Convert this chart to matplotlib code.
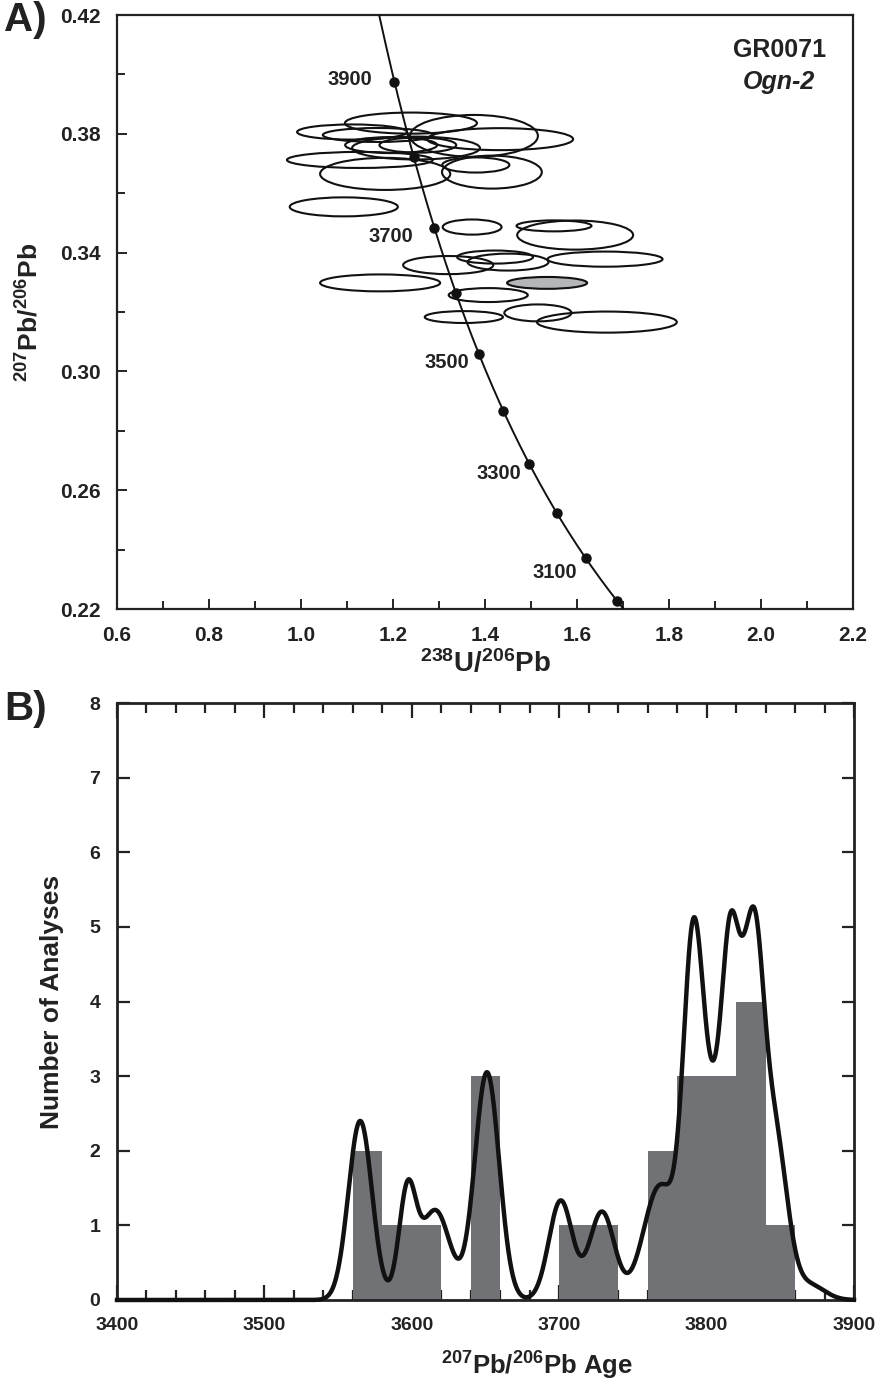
import numpy as np
import matplotlib
matplotlib.use("Agg")
import matplotlib.pyplot as plt
from matplotlib.patches import Ellipse
from matplotlib.ticker import MultipleLocator, FixedLocator

plt.rcParams['font.family'] = ['Liberation Sans', 'DejaVu Sans']
plt.rcParams['font.weight'] = 'bold'
plt.rcParams['mathtext.fontset'] = 'custom'
plt.rcParams['mathtext.rm'] = 'Liberation Sans:bold'
plt.rcParams['mathtext.bf'] = 'Liberation Sans:bold'
plt.rcParams['mathtext.it'] = 'Liberation Sans:bold:italic'
plt.rcParams['mathtext.default'] = 'bf'

# --- panel A: Tera-Wasserburg ellipses (centre x, centre y, full width, full height)
ell_x = [1.111, 1.239, 1.167, 1.376, 1.433, 1.196, 1.254, 1.250, 1.128, 1.183, 1.415, 1.380, 1.093,
         1.372, 1.550, 1.596, 1.422, 1.320, 1.450, 1.661, 1.172, 1.535, 1.407, 1.354, 1.515, 1.665]
ell_y = [0.3806, 0.3836, 0.3796, 0.3793, 0.3782, 0.3762, 0.3762, 0.3752, 0.3712, 0.3665, 0.3671, 0.3695, 0.3554,
         0.3486, 0.3490, 0.3459, 0.3385, 0.3358, 0.3368, 0.3378, 0.3298, 0.3298, 0.3257, 0.3183, 0.3197, 0.3166]
ell_w = [0.239, 0.287, 0.239, 0.278, 0.317, 0.200, 0.167, 0.278, 0.317, 0.283, 0.217, 0.146, 0.235,
         0.128, 0.163, 0.252, 0.165, 0.196, 0.176, 0.250, 0.261, 0.174, 0.172, 0.170, 0.146, 0.304]
ell_h = [0.0051, 0.0071, 0.0047, 0.0141, 0.0074, 0.0054, 0.0051, 0.0077, 0.0054, 0.0108, 0.0111, 0.0051, 0.0064,
         0.0051, 0.0037, 0.0098, 0.0044, 0.0061, 0.0057, 0.0051, 0.0057, 0.0040, 0.0047, 0.0040, 0.0057, 0.0071]
ell_grey = [False] * 21 + [True] + [False] * 4

# concordia age marks (Ma)
conc_ages = [3000, 3100, 3200, 3300, 3400, 3500, 3600, 3700, 3800, 3900]
conc_labels = [3100, 3300, 3500, 3700, 3900]
label_offsets = {3900: (-16, 1.5), 3700: (-15, -6.5), 3500: (-7, -6), 3300: (-6, -7), 3100: (-6, -10)}
y_ticks_a = [0.22, 0.26, 0.30, 0.34, 0.38, 0.42]

LAMBDA238 = 1.55125e-10
LAMBDA235 = 9.8485e-10
U_RATIO = 137.88


def tera_wasserburg(age_ma):
    t = np.asarray(age_ma, dtype=float) * 1e6
    e238 = np.exp(LAMBDA238 * t) - 1
    e235 = np.exp(LAMBDA235 * t) - 1
    return 1 / e238, e235 / e238 / U_RATIO


# --- panel B: histogram (20 Ma bins) and probability density peaks
bin_start = [3560, 3580, 3600, 3620, 3640, 3660, 3680, 3700, 3720, 3740, 3760, 3780, 3800, 3820, 3840]
bin_count = [2, 1, 1, 0, 3, 0, 0, 1, 1, 0, 2, 3, 3, 4, 1]

peak_age = [3565, 3597, 3616, 3651, 3701, 3729, 3768, 3790.5, 3803, 3817, 3825, 3832, 3846, 3870]
peak_height = [2.4, 1.4, 1.2, 3.05, 1.33, 1.18, 1.5, 3.5, 2.4, 3.65, 0.35, 4.3, 2.2, 0.2]
peak_sigma = [8, 5.8, 10, 8.3, 8, 8.5, 11, 6.5, 12, 6.2, 4, 6.5, 8.5, 10]

fig = plt.figure(figsize=(8.75, 13.9), dpi=100)
W, H = 875, 1390
ax1 = fig.add_axes([117 / W, 1 - 609 / H, 736 / W, 594 / H])
ax2 = fig.add_axes([117 / W, 1 - 1300 / H, 737 / W, 597 / H])

# ---------------- panel A
for x, y, w, h, g in zip(ell_x, ell_y, ell_w, ell_h, ell_grey):
    ax1.add_patch(Ellipse((x, y), w, h, facecolor='#b4b6b9' if g else 'none',
                          edgecolor='#111111', lw=1.5, zorder=3))

curve_x, curve_y = tera_wasserburg(np.linspace(2950, 4100, 400))
ax1.plot(curve_x, curve_y, color='#111111', lw=1.4, zorder=4)
mx, my = tera_wasserburg(conc_ages)
ax1.plot(mx, my, 'o', color='#111111', ms=6.5, zorder=5, clip_on=False)
for age in conc_labels:
    px, py = tera_wasserburg(age)
    ax1.annotate(str(age), (px, py), xytext=label_offsets[age], textcoords='offset points',
                 ha='right', va='center', fontsize=14.5, fontweight='bold', color='#222222')

ax1.text(0.9, 0.941, 'GR0071', transform=ax1.transAxes, ha='center', va='center',
         fontsize=18, fontweight='bold', color='#222222')
ax1.text(0.9, 0.887, 'Ogn-2', transform=ax1.transAxes, ha='center', va='center',
         fontsize=18, fontweight='bold', style='italic', color='#222222')

ax1.set_xlim(0.6, 2.2)
ax1.set_ylim(0.22, 0.42)
ax1.xaxis.set_major_locator(MultipleLocator(0.2))
ax1.xaxis.set_minor_locator(MultipleLocator(0.1))
ax1.yaxis.set_major_locator(FixedLocator(y_ticks_a))
ax1.yaxis.set_minor_locator(MultipleLocator(0.02))
ax1.xaxis.set_major_formatter(plt.FuncFormatter(lambda v, p: f'{v:.1f}'))
ax1.yaxis.set_major_formatter(plt.FuncFormatter(lambda v, p: f'{v:.2f}'))
ax1.tick_params(which='both', direction='in', labelsize=15, pad=12, width=1.4, colors='#222222')
ax1.tick_params(which='major', length=7)
ax1.tick_params(which='minor', length=6)
for s in ax1.spines.values():
    s.set_linewidth(1.6)
    s.set_color('#222222')
ax1.set_xlabel(r'$^{238}$U/$^{206}$Pb', fontsize=20, fontweight='bold', color='#222222')
ax1.set_ylabel(r'$^{207}$Pb/$^{206}$Pb', fontsize=19, fontweight='bold', color='#222222')
ax1.xaxis.set_label_coords(0.5, -0.068)
ax1.yaxis.set_label_coords(-0.1, 0.5)

# ---------------- panel B
ax2.bar(bin_start, bin_count, width=20, align='edge', color='#707276', zorder=2)
ages = np.linspace(3400, 3900, 2001)
pdp = np.zeros_like(ages)
for c, h, s in zip(peak_age, peak_height, peak_sigma):
    pdp += h * np.exp(-(ages - c) ** 2 / (2 * s ** 2))
ax2.plot(ages, pdp, color='#111111', lw=3.2, zorder=3, clip_on=False)

ax2.set_xlim(3400, 3900)
ax2.set_ylim(0, 8)
ax2.xaxis.set_major_locator(MultipleLocator(100))
ax2.xaxis.set_minor_locator(MultipleLocator(20))
ax2.yaxis.set_major_locator(MultipleLocator(1))
ax2.tick_params(which='both', direction='in', top=True, right=True, labelsize=14, pad=12,
                width=1.6, colors='#222222')
ax2.tick_params(axis='x', which='major', length=11)
ax2.tick_params(axis='x', which='minor', length=7)
ax2.tick_params(axis='y', which='major', length=9)
for s in ax2.spines.values():
    s.set_linewidth(2.0)
    s.set_color('#222222')
ax2.set_xlabel(r'$^{207}$Pb/$^{206}$Pb Age', fontsize=18.5, fontweight='bold', color='#222222')
ax2.set_ylabel('Number of Analyses', fontsize=19, fontweight='bold', color='#222222')
ax2.xaxis.set_label_coords(0.57, -0.083)
ax2.yaxis.set_label_coords(-0.072, 0.5)

fig.text(0.005, 0.999, 'A)', fontsize=29, fontweight='bold', va='top', ha='left', color='#222222')
fig.text(0.005, 0.5036, 'B)', fontsize=29, fontweight='bold', va='top', ha='left', color='#222222')

fig.savefig('out.png', dpi=100)
